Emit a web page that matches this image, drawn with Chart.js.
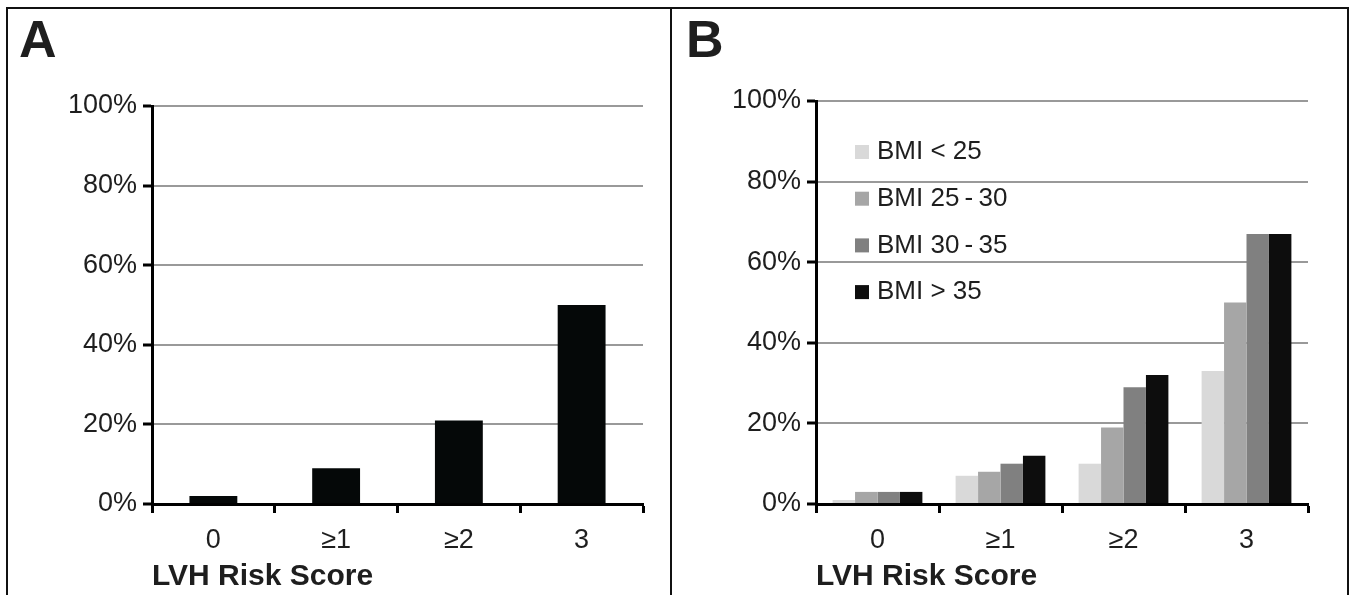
<!DOCTYPE html>
<html>
<head>
<meta charset="utf-8">
<script src="https://cdn.jsdelivr.net/npm/chart.js@4.4.1/dist/chart.umd.min.js"></script>
<style>
  body { margin: 0; background: #fff; width: 1355px; height: 595px; overflow: hidden; position: relative; }
  .frame { position: absolute; top: 7px; height: 600px; border: 2px solid #111; box-sizing: border-box; }
  #frameA { left: 6px; width: 666px; }
  #frameB { left: 670px; width: 679px; }
  canvas { position: absolute; top: 0; }
  #chartA { left: 0; }
  #chartB { left: 671px; }
</style>
</head>
<body>
<div class="frame" id="frameA"></div>
<div class="frame" id="frameB"></div>
<canvas id="chartA" width="671" height="595"></canvas>
<canvas id="chartB" width="684" height="595"></canvas>
<script>
var categories = ['0', '\u22651', '\u22652', '3'];
var yTicks = [0, 20, 40, 60, 80, 100];

// panel A: share with LVH by risk score
var riskAll = [2, 9, 21, 50];

// panel B: same, split by BMI group
var bmiLabels = ['BMI < 25', 'BMI 25\u2009-\u200930', 'BMI 30\u2009-\u200935', 'BMI > 35'];
var bmiUnder25 = [1, 7, 10, 33];
var bmi25to30 = [3, 8, 19, 50];
var bmi30to35 = [3, 10, 29, 67];
var bmiOver35 = [3, 12, 32, 67];
var bmiColors = ['#d9d9d9', '#a6a6a6', '#808080', '#0d0d0d'];

var fam = '"Liberation Sans", Arial, sans-serif';
var textColor = '#1e1e1e';

var panelExtras = {
  id: 'panelExtras',
  afterDraw: function(chart, args, opts) {
    var ctx = chart.ctx;
    ctx.save();
    ctx.fillStyle = textColor;
    ctx.font = 'bold 52px ' + fam;
    ctx.textBaseline = 'alphabetic';
    ctx.textAlign = 'left';
    ctx.fillText(opts.letter, opts.letterX, 57);
    if (opts.legend) {
      ctx.font = '26px ' + fam;
      ctx.textBaseline = 'middle';
      chart.data.datasets.forEach(function(ds, i) {
        var y = opts.legendY + i * opts.legendStep;
        ctx.fillStyle = ds.backgroundColor;
        ctx.fillRect(opts.legendX, y - 7, 14, 14);
        ctx.fillStyle = textColor;
        ctx.fillText(ds.label, opts.legendX + 22, y);
      });
    }
    ctx.restore();
  }
};

function makeChart(id, datasets, o) {
  return new Chart(document.getElementById(id).getContext('2d'), {
    type: 'bar',
    data: { labels: categories, datasets: datasets },
    plugins: [panelExtras],
    options: {
      responsive: false,
      animation: false,
      datasets: { bar: { categoryPercentage: o.catPct, barPercentage: o.barPct, borderWidth: 0 } },
      layout: { padding: { left: 0, top: o.top, right: o.right, bottom: 0 } },
      plugins: {
        legend: { display: false },
        tooltip: { enabled: false },
        panelExtras: o.extras
      },
      scales: {
        x: {
          grid: { display: true, drawOnChartArea: false, offset: true, tickLength: 9, tickWidth: 3, tickColor: '#000' },
          border: { display: true, color: '#000', width: 3 },
          ticks: { color: textColor, font: { size: 27, family: fam }, padding: 11, maxRotation: 0 },
          title: { display: true, text: 'LVH Risk Score', align: 'start', color: textColor,
                   font: { size: 30, weight: 'bold', family: fam }, padding: { top: 0, bottom: 0 } },
          afterFit: function(s) { s.height = 91; }
        },
        y: {
          min: 0, max: 100,
          afterBuildTicks: function(s) { s.ticks = yTicks.map(function(v) { return { value: v }; }); },
          ticks: { color: textColor, font: { size: 27, family: fam }, padding: 6,
                   callback: function(v) { return v + '%'; } },
          grid: { color: '#999', lineWidth: 2, tickLength: 9, tickWidth: 3, tickColor: '#000' },
          border: { color: '#000', width: 3 },
          afterFit: function(s) { s.width = o.axisLeft; }
        }
      }
    }
  });
}

makeChart('chartA', [
  { label: 'All', data: riskAll, backgroundColor: '#050808' }
], { catPct: 1, barPct: 0.39, top: 106, right: 28, axisLeft: 152,
     extras: { letter: 'A', letterX: 19, legend: false } });

makeChart('chartB', [
  { label: bmiLabels[0], data: bmiUnder25, backgroundColor: bmiColors[0] },
  { label: bmiLabels[1], data: bmi25to30, backgroundColor: bmiColors[1] },
  { label: bmiLabels[2], data: bmi30to35, backgroundColor: bmiColors[2] },
  { label: bmiLabels[3], data: bmiOver35, backgroundColor: bmiColors[3] }
], { catPct: 0.73, barPct: 1, top: 101, right: 47, axisLeft: 145,
     extras: { letter: 'B', letterX: 15, legend: true, legendX: 184, legendY: 152, legendStep: 46.7 } });
</script>
</body>
</html>
